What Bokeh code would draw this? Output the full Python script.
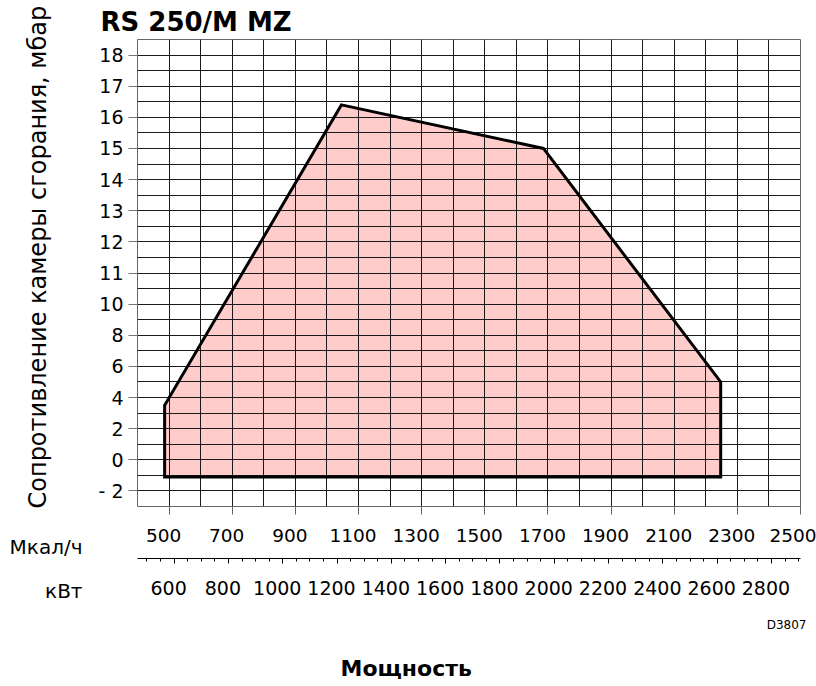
import numpy as np
from bokeh.plotting import figure
from bokeh.layouts import row
from bokeh.models import Range1d, LinearAxis, FixedTicker, Title
from bokeh.embed import file_html
from bokeh.resources import INLINE

# ---------------- data ----------------
title_text = "RS 250/M MZ"
y_title = "Сопротивление камеры сгорания, мбар"
x_title = "Мощность"
unit_mcal = "Мкал/ч"
unit_kw = "кВт"
code_text = "D3807"

# working field envelope (kW, mbar)
env_kw = [565, 565, 1216, 1960, 2613, 2613]
env_mbar = [-1.1, 3.5, 16.4, 15.0, 5.0, -1.1]

# pressure axis ticks (non-uniform scale)
y_tick_mbar = [-2, 0, 2, 4, 6, 8, 10, 11, 12, 13, 14, 15, 16, 17, 18]
y_tick_labels = ["- 2", "0", "2", "4", "6", "8", "10", "11", "12", "13",
                 "14", "15", "16", "17", "18"]

# power axes
mcal_ticks = [500, 700, 900, 1100, 1300, 1500, 1700, 1900, 2100, 2300, 2500]
kw_ticks = [600, 800, 1000, 1200, 1400, 1600, 1800, 2000, 2200, 2400, 2600, 2800]
kw_minor = list(range(500, 2901, 50))
mcal_grid = list(range(400, 2501, 100))
mcal_min, mcal_max = 400, 2500
KW_TO_MCAL = 0.86

# piecewise pressure scale: breakpoints (mbar -> scale units)
scale_mbar = [-2, 10, 18]
scale_pos = [0, 6, 14]


def mbar_to_pos(v):
    return np.interp(np.asarray(v, dtype=float), scale_mbar, scale_pos)


FONT = "DejaVu Sans"
TOTAL_H = 686
SIDE_W = 90
MAIN_W = 816 - SIDE_W
TOP, BOTTOM = 39, 180
FRAME_W = 663
LABEL_SHIFT_PX = 5.5  # tick labels sit slightly left of their ticks

# ---------------- left strip: side texts as titles ----------------
side = figure(width=SIDE_W, height=TOTAL_H, x_range=Range1d(0, 1), y_range=Range1d(0, 1),
              x_axis_location=None, y_axis_location=None,
              output_backend="svg", toolbar_location=None,
              min_border_left=0, min_border_right=0,
              min_border_top=TOP, min_border_bottom=BOTTOM,
              outline_line_color=None,
              background_fill_color="white", border_fill_color="white")
side.xgrid.visible = False
side.ygrid.visible = False

side.add_layout(Title(text=y_title, align="left", offset=-2, vertical_align="top",
                      standoff=47, text_font=FONT, text_font_size="24px",
                      text_font_style="normal", text_color="black"), "left")
side.add_layout(Title(text=" ", align="right", offset=8, vertical_align="bottom",
                      standoff=13, text_font=FONT, text_font_size="10px",
                      text_font_style="normal", text_color="black"), "below")
side.add_layout(Title(text=unit_mcal, align="right", offset=8, vertical_align="bottom",
                      standoff=0, text_font=FONT, text_font_size="20px",
                      text_font_style="normal", text_color="black"), "below")
side.add_layout(Title(text=unit_kw, align="right", offset=8, vertical_align="bottom",
                      standoff=37, text_font=FONT, text_font_size="20px",
                      text_font_style="normal", text_color="black"), "below")

# ---------------- main chart ----------------
kw_min, kw_max = mcal_min / KW_TO_MCAL, mcal_max / KW_TO_MCAL
mcal_shift = LABEL_SHIFT_PX * (mcal_max - mcal_min) / FRAME_W
kw_shift = LABEL_SHIFT_PX * (kw_max - kw_min) / FRAME_W

p = figure(width=MAIN_W, height=TOTAL_H,
           x_range=Range1d(mcal_min, mcal_max),
           y_range=Range1d(-0.5, 14.5),
           output_backend="svg", toolbar_location=None,
           min_border_left=137 - SIDE_W, min_border_right=MAIN_W - (137 - SIDE_W) - FRAME_W,
           min_border_top=TOP, min_border_bottom=BOTTOM,
           background_fill_color="white", border_fill_color="white")
p.extra_x_ranges = {
    "kw": Range1d(kw_min, kw_max),
    "mcal_lbl": Range1d(mcal_min + mcal_shift, mcal_max + mcal_shift),
    "kw_lbl": Range1d(kw_min + kw_shift, kw_max + kw_shift),
}
p.outline_line_color = "#666666"
p.outline_line_width = 1

# grid
p.xgrid.ticker = FixedTicker(ticks=mcal_grid)
p.ygrid.ticker = FixedTicker(ticks=[float(v) for v in np.arange(-0.5, 14.51, 0.5)])
for g in (p.xgrid[0], p.ygrid[0]):
    g.grid_line_color = "#1a1a1a"
    g.grid_line_width = 1
    g.grid_line_alpha = 1.0

# envelope
env_pos = [float(v) for v in mbar_to_pos(env_mbar)]
p.patch(env_kw, env_pos, fill_color="#ffcccc", line_color=None,
        x_range_name="kw", level="image")
p.patch(env_kw, env_pos, fill_color=None, line_color="black", line_width=3,
        line_join="miter", x_range_name="kw")

# y axis
yax = p.yaxis[0]
ypos = [int(round(float(v))) for v in mbar_to_pos(y_tick_mbar)]
yax.ticker = FixedTicker(ticks=ypos, minor_ticks=[])
yax.major_label_overrides = {k: lab for k, lab in zip(ypos, y_tick_labels)}
yax.axis_line_color = None
yax.major_tick_in = 0
yax.major_tick_out = 9
yax.major_tick_line_color = "#777777"
yax.major_label_standoff = 5
yax.major_label_text_font = FONT
yax.major_label_text_font_size = "19px"
yax.major_label_text_color = "black"


def hide_labels(ax):
    ax.major_label_standoff = 0
    ax.major_label_text_font_size = "1px"
    ax.major_label_text_color = None


def labels_only(ax, standoff, size):
    ax.axis_line_color = None
    ax.major_tick_line_color = None
    ax.minor_tick_line_color = None
    ax.major_tick_in = 0
    ax.major_tick_out = 0
    ax.minor_tick_in = 0
    ax.minor_tick_out = 0
    ax.major_label_standoff = standoff
    ax.major_label_text_font = FONT
    ax.major_label_text_font_size = size
    ax.major_label_text_color = "black"


# Mcal/h ticks
xax = p.xaxis[0]
xax.ticker = FixedTicker(ticks=mcal_ticks, minor_ticks=[])
xax.axis_line_color = None
xax.major_tick_in = 0
xax.major_tick_out = 8
xax.major_tick_line_color = "#666666"
hide_labels(xax)

# Mcal/h labels
mlab = LinearAxis(x_range_name="mcal_lbl", ticker=FixedTicker(ticks=mcal_ticks, minor_ticks=[]))
labels_only(mlab, 14, "18.5px")
mlab.axis_label = " "
mlab.axis_label_text_font_size = "6px"
mlab.axis_label_standoff = 5
p.add_layout(mlab, "below")

# kW ruler
kax = LinearAxis(x_range_name="kw", ticker=FixedTicker(ticks=kw_ticks, minor_ticks=kw_minor))
kax.axis_line_color = "black"
kax.axis_line_width = 1
kax.major_tick_in = 0
kax.major_tick_out = 5
kax.minor_tick_in = 0
kax.minor_tick_out = 3
kax.major_tick_line_color = "black"
kax.minor_tick_line_color = "black"
hide_labels(kax)
p.add_layout(kax, "below")

# kW labels
klab = LinearAxis(x_range_name="kw_lbl", ticker=FixedTicker(ticks=kw_ticks, minor_ticks=[]))
labels_only(klab, 17, "19px")
p.add_layout(klab, "below")

# titles
p.add_layout(Title(text=title_text, align="left", offset=-37, standoff=6,
                   vertical_align="bottom", text_font=FONT, text_font_size="26px",
                   text_font_style="bold", text_color="black"), "above")
p.add_layout(Title(text=code_text, align="right", offset=-6, standoff=37,
                   vertical_align="bottom", text_font=FONT, text_font_size="12px",
                   text_font_style="normal", text_color="black"), "below")
p.add_layout(Title(text=x_title, align="left", offset=203, standoff=6,
                   vertical_align="bottom", text_font=FONT, text_font_size="22px",
                   text_font_style="bold", text_color="black"), "below")

layout = row(side, p)
open("out.html", "w").write(file_html(layout, INLINE))
